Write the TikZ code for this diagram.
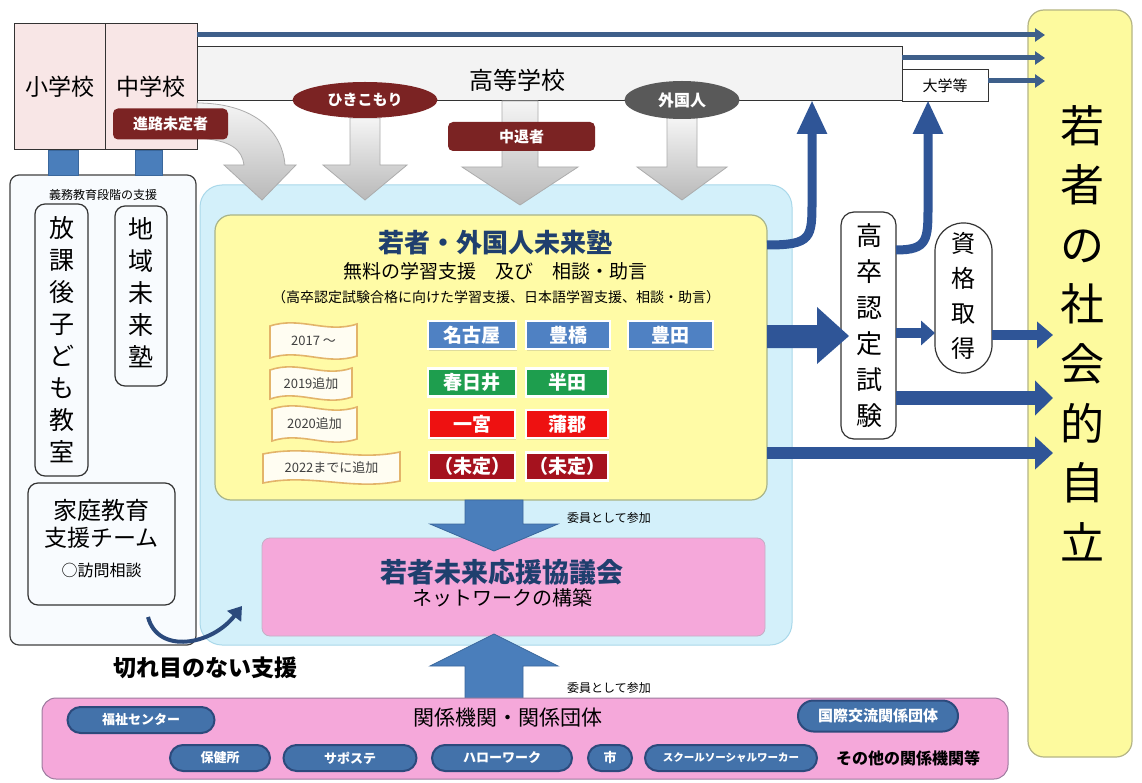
\documentclass[tikz,border=0pt]{standalone}
\usepackage{fontspec}
\setmainfont{Noto Sans CJK JP}
\usetikzlibrary{arrows.meta,shadows,shapes.geometric,shapes.misc}
\definecolor{navy}{HTML}{2F5597}
\definecolor{topblue}{HTML}{3E5F8A}
\definecolor{blk}{HTML}{4A7EBB}
\definecolor{blkb}{HTML}{3A679C}
\definecolor{dred}{HTML}{7B2323}
\definecolor{gry}{HTML}{595959}
\definecolor{schpink}{HTML}{F8E6E6}
\definecolor{hsgray}{HTML}{F3F3F3}
\definecolor{ltblue}{HTML}{D3F0FA}
\definecolor{ltbb}{HTML}{A9D8EA}
\definecolor{yel}{HTML}{FFFBA6}
\definecolor{yelb}{HTML}{A8B48A}
\definecolor{jyel}{HTML}{FDFA9E}
\definecolor{jbord}{HTML}{B5B585}
\definecolor{pnk}{HTML}{F5A8DA}
\definecolor{pnkb}{HTML}{9C7A9E}
\definecolor{cblue}{HTML}{4F81C3}
\definecolor{cgreen}{HTML}{1E9E4E}
\definecolor{cred}{HTML}{EE1111}
\definecolor{cdred}{HTML}{A5121E}
\definecolor{pill}{HTML}{4372AA}
\definecolor{pillb}{HTML}{2C4A7C}
\definecolor{titleblue}{HTML}{1F3F6E}
\definecolor{banb}{HTML}{E3B46A}
\definecolor{banf}{HTML}{FFFDF2}
\definecolor{lpfill}{HTML}{F8FBFE}
\definecolor{curveblue}{HTML}{2B4A7C}
\newcommand\fsv[2]{\fontsize{#1}{#2}\selectfont}
\newcommand\grayarr[6]{\shade[garr] ({#1-#5},#2) -- ({#1+#5},#2) -- ({#1+#5},#3) -- ({#1+#6},#3) -- (#1,#4) -- ({#1-#6},#3) -- ({#1-#5},#3) -- cycle;}
\newcommand\ribbon[6]{%
 \filldraw[ban] (#2,{#3+4}) .. controls ({#2+(#4-#2)*0.35},{#3-6}) and ({#2+(#4-#2)*0.65},{#3+12}) .. (#4,{#3+2}) -- (#4,{#5-4}) .. controls ({#2+(#4-#2)*0.65},{#5+6}) and ({#2+(#4-#2)*0.35},{#5-12}) .. (#2,{#5-2}) -- cycle;
 \node[font=\fsv{13}{13}, text=black!75] (#1) at ({(#2+#4)/2},{(#3+#5)/2}) {#6};}
\tikzset{
 school/.style={draw=black!80, fill=schpink, line width=1, minimum height=126, font=\fsv{23}{23}},
 redlabel/.style={fill=dred, text=white, rounded corners=5, font=\bfseries\fsv{15}{15}},
 garr/.style={top color=gray!8, bottom color=gray!55, draw=gray!65, line width=0.8},
 ban/.style={draw=banb, fill=banf, line width=1.6},
 city/.style={draw=white, line width=2.5pt, text=white, font=\bfseries\fsv{19}{19}, minimum height=28, drop shadow={opacity=0.25, shadow xshift=1pt, shadow yshift=-1.5pt}},
 pillst/.style={rounded rectangle, draw=pillb, line width=2, fill=pill, text=white, font=\bfseries\fsv{13}{13}, minimum height=26},
 vbox/.style={draw=black!80, line width=1.2, rounded corners=10},
 toparr/.style={topblue, line width=5, -{Triangle[length=10pt,width=13pt]}},
 bigblk/.style={fill=blk, draw=blkb, line width=0.8},
}
\begin{document}
\begin{tikzpicture}[x=1pt,y=-1pt, every node/.style={inner sep=0pt, outer sep=0pt}]
\useasboundingbox[fill=white] (0,0) rectangle (1142,783);

% right goal box
\node[draw=jbord, fill=jyel, rounded corners=16, line width=1.2, minimum width=104, minimum height=747] (jiritsu) at (1080,383.5) {};
\node[font=\fsv{44}{59.6}, align=center] (jtext) at (1082,333) {若\\者\\の\\社\\会\\的\\自\\立};

% left panel and light-blue region
\node[draw=black!75, fill=lpfill, rounded corners=9, line width=1.2, minimum width=186, minimum height=470] (lp) at (103,410) {};
\node[draw=ltbb, fill=ltblue, rounded corners=22, line width=1, minimum width=592, minimum height=460] (ltb) at (496,415) {};

% schools
\node[school, minimum width=91] (sho) at (59.5,87) {小学校};
\node[school, minimum width=92] (chu) at (151,87) {中学校};
\node[draw=black!80, fill=hsgray, line width=1, minimum width=705, minimum height=54] (hs) at (549.5,74) {};
\node[font=\fsv{24}{24}] (hst) at (517,80) {高等学校};
\node[draw=black!80, fill=white, line width=1, minimum width=86, minimum height=32, font=\fsv{15}{15}] (uni) at (945,86) {大学等};

% top arrows
\coordinate (s1) at (197,35);
\coordinate (e1) at (1045,35);
\coordinate (e2) at (1045,58);
\coordinate (e3) at (1045,81);
\draw[toparr] (s1) -- (e1);
\draw[toparr] (hs.east |- 0,58) -- (e2);
\draw[toparr] (uni.east |- 0,81) -- (e3);

% gray arrows
\shade[garr] (197,103) .. controls (250,103) and (282,128) .. (285,165) -- (296,165) -- (262,200) -- (224,165) -- (244,165) .. controls (242,150) and (232,140) .. (197,138) -- cycle;
\grayarr{365}{118}{165}{200}{15}{42}
\grayarr{520}{101}{167}{205}{18}{58}
\grayarr{682}{118}{167}{200}{15}{45}

\node[ellipse, fill=dred, text=white, minimum width=145, minimum height=36, font=\bfseries\fsv{15}{15}] (hiki) at (365,100) {ひきこもり};
\node[ellipse, fill=gry, text=white, minimum width=115, minimum height=38, font=\bfseries\fsv{16}{16}] (gai) at (682,100) {外国人};
\node[redlabel, minimum width=147, minimum height=29] (chutai) at (521.5,136.5) {中退者};
\node[redlabel, minimum width=115, minimum height=31] (shinro) at (170.5,124) {進路未定者};

% connectors school -> panel
\node[fill=blk, draw=blkb, minimum width=30, minimum height=25] (c1) at (63,163) {};
\node[fill=blk, draw=blkb, minimum width=27, minimum height=25] (c2) at (148.5,163) {};

% left panel contents
\node[font=\fsv{12}{12}] (gimu) at (103,195) {義務教育段階の支援};
\node[vbox, minimum width=53, minimum height=272] (hoka) at (61.5,340) {};
\node[font=\fsv{25}{32}, align=center] (hokat) at (61.5,340) {放\\課\\後\\子\\ど\\も\\教\\室};
\node[vbox, minimum width=52, minimum height=180] (chiiki) at (141,296) {};
\node[font=\fsv{25}{32}, align=center] (chiikit) at (141,293) {地\\域\\未\\来\\塾};
\node[vbox, minimum width=147, minimum height=122] (katei) at (101.5,544) {};
\node[font=\fsv{24}{24}] (katei1) at (101.5,510) {家庭教育};
\node[font=\fsv{23}{23}] (katei2) at (101.5,538) {支援チーム};
\node[font=\fsv{16}{16}] (katei3) at (101.5,570) {○訪問相談};

% yellow box
\node[draw=yelb, fill=yel, rounded corners=16, line width=1.2, minimum width=552, minimum height=285] (juku) at (491,357.5) {};
\node[font=\bfseries\fsv{26}{26}, text=titleblue] (t1) at (495,243) {若者・外国人未来塾};
\node[font=\fsv{19}{19}] (t2) at (495,271) {無料の学習支援　及び　相談・助言};
\node[font=\fsv{14}{14}] (t3) at (496,297) {（高卒認定試験合格に向けた学習支援、日本語学習支援、相談・助言）};

\ribbon{y17}{270}{322}{357}{360}{2017 ～}
\ribbon{y19}{270}{366}{352}{401}{2019追加}
\ribbon{y20}{272}{405}{357}{443}{2020追加}
\ribbon{y22}{263}{450}{400}{485}{2022までに追加}

\node[city, fill=cblue, minimum width=88] (nagoya) at (472,335) {名古屋};
\node[city, fill=cblue, minimum width=84] (toyohashi) at (568,335) {豊橋};
\node[city, fill=cblue, minimum width=85] (toyota) at (670.5,335) {豊田};
\node[city, fill=cgreen, minimum width=88] (kasugai) at (472,382.5) {春日井};
\node[city, fill=cgreen, minimum width=82] (handa) at (567,382.5) {半田};
\node[city, fill=cred, minimum width=86] (ichi) at (472,424) {一宮};
\node[city, fill=cred, minimum width=82] (gama) at (567,424) {蒲郡};
\node[city, fill=cdred, minimum width=86] (mitei1) at (472,466.5) {（未定）};
\node[city, fill=cdred, minimum width=82] (mitei2) at (567,466.5) {（未定）};

% exam and qualification
\node[vbox, fill=white, rounded corners=13, minimum width=55, minimum height=227] (kosotsu) at (868.5,325.5) {};
\node[font=\fsv{26}{36}, align=center] (kosotsut) at (869,326) {高\\卒\\認\\定\\試\\験};
\node[draw=black!80, line width=1.2, fill=white, rounded corners=28, minimum width=57, minimum height=150] (shikaku) at (963.5,298) {};
\node[font=\fsv{24}{35}, align=center] (shikakut) at (963.5,296) {資\\格\\取\\得};

% arrows from juku
\fill[navy] (juku.east |- 0,325) -- (817,325) -- (817,307) -- (849,336) -- (817,364) -- (817,348) -- (juku.east |- 0,348) -- cycle;
\coordinate (ue1) at (812,100);
\coordinate (ue2) at (928,100);
\draw[navy, line width=9, -{Triangle[length=34pt,width=28pt]}] (juku.east |- 0,245) .. controls (812,245) and (812,238) .. (812,200) -- (ue1);
\draw[navy, line width=9, -{Triangle[length=34pt,width=28pt]}] (kosotsu.east |- 0,250) .. controls (928,250) and (928,240) .. (928,205) -- (ue2);

\coordinate (g1) at (1053,335);
\coordinate (g2) at (1053,398);
\coordinate (g3) at (1053,453);
\draw[navy, line width=10, -{Triangle[length=14pt,width=24pt]}] (kosotsu.east |- 0,333) -- (shikaku.west |- 0,333);
\draw[navy, line width=10, -{Triangle[length=16pt,width=26pt]}] (shikaku.east |- 0,335) -- (g1);
\draw[navy, line width=14, -{Triangle[length=18pt,width=34pt]}] (kosotsu.east |- 0,398) -- (g2);
\draw[navy, line width=12, -{Triangle[length=18pt,width=32pt]}] (juku.east |- 0,453) -- (g3);

% council
\node[draw=pnkb!60, fill=pnk, rounded corners=8, line width=0.8, minimum width=503, minimum height=98] (kyo) at (513.5,587) {};
\node[font=\bfseries\fsv{27}{27}, text=titleblue] (kyot) at (502,572) {若者未来応援協議会};
\node[font=\fsv{20}{20}] (kyot2) at (502,598) {ネットワークの構築};

\path[bigblk] (465,500) -- (523,500) -- (523,524) -- (558,524) -- (494,551) -- (430,524) -- (465,524) -- cycle;
\path[bigblk] (465,699) -- (523,699) -- (523,666) -- (558,666) -- (494,634) -- (430,666) -- (465,666) -- cycle;
\node[font=\fsv{12}{12}] (iin1) at (609,518) {委員として参加};
\node[font=\fsv{12}{12}] (iin2) at (609,688) {委員として参加};

% seamless support arrow
\coordinate (sa0) at (148,617);
\coordinate (sa1) at (242,606);
\draw[curveblue, line width=4, -{Triangle[length=13pt,width=17pt]}] (sa0) .. controls (158,655) and (212,645) .. (sa1);
\node[font=\bfseries\fsv{23}{23}] (kireme) at (205,668) {切れ目のない支援};

% related organisations
\node[draw=pnkb, fill=pnk, rounded corners=14, line width=1, minimum width=966, minimum height=81] (kan) at (525,738.5) {};
\node[font=\fsv{21}{21}] (kant) at (508,718) {関係機関・関係団体};
\node[pillst, minimum width=147] (fukushi) at (141,720) {福祉センター};
\node[pillst, minimum width=100] (hoken) at (220,758) {保健所};
\node[pillst, minimum width=133] (sapo) at (350,758) {サポステ};
\node[pillst, minimum width=140] (hello) at (502,758) {ハローワーク};
\node[pillst, minimum width=44] (shi) at (610,758) {市};
\node[pillst, minimum width=172, font=\bfseries\fsv{10.5}{10.5}] (ssw) at (731,758) {スクールソーシャルワーカー};
\node[pillst, minimum width=160, minimum height=31, font=\bfseries\fsv{15}{15}] (kokusai) at (878,716) {国際交流関係団体};
\node[font=\bfseries\fsv{16}{16}] (sonota) at (908,758) {その他の関係機関等};
\end{tikzpicture}
\end{document}
